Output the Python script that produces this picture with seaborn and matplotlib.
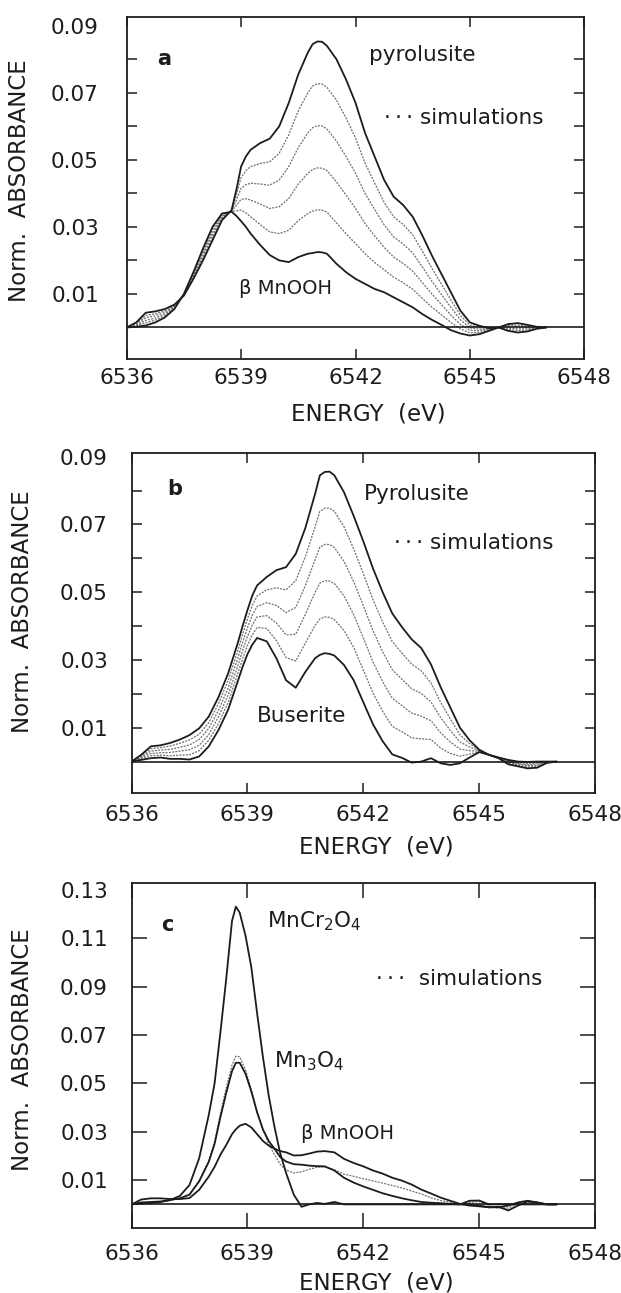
import matplotlib
matplotlib.use("Agg")
import matplotlib.pyplot as plt
import seaborn as sns

# ---- panel a : pyrolusite / beta-MnOOH and 4 simulated mixtures ----
energy_ab = [6536.00, 6536.25, 6536.50, 6536.75, 6537.00, 6537.25, 6537.50, 6537.75,
             6538.00, 6538.25, 6538.50, 6538.75, 6538.875, 6539.00, 6539.125, 6539.25,
             6539.50, 6539.75, 6540.00, 6540.25, 6540.50, 6540.75, 6540.875, 6541.00,
             6541.125, 6541.25, 6541.50, 6541.75, 6542.00, 6542.25, 6542.50, 6542.75,
             6543.00, 6543.25, 6543.50, 6543.75, 6544.00, 6544.25, 6544.50, 6544.75,
             6545.00, 6545.25, 6545.50, 6545.75, 6546.00, 6546.25, 6546.50, 6546.75,
             6547.00]

pyrolusite_a = [0, .0015, .0044, .0048, .0055, .0068, .0095, .0145, .020, .026, .032, .035,
                .041, .048, .051, .053, .055, .0563, .060, .067, .0755, .082, .0845, .0853,
                .0852, .084, .080, .074, .067, .058, .051, .044, .039, .0365, .033, .0275,
                .0215, .016, .0105, .005, .0015, .0005, -.0002, 0, .001, .0013, .0008,
                .0002, 0]
mnooh_a = [0, .0002, .0006, .0015, .003, .0055, .0100, .0165, .0235, .030, .034, .0345,
           .0333, .0317, .030, .028, .0246, .0216, .020, .0195, .021, .022, .0222, .0225,
           .0224, .022, .019, .0165, .0145, .013, .0115, .0105, .009, .0075, .006, .004,
           .0023, .0008, -.0008, -.0018, -.0024, -.002, -.001, 0, -.001, -.0015, -.0012,
           -.0004, 0]
sim_a1 = [0, .0005, .0014, .0022, .0035, .0058, .0099, .0161, .0228, .0292, .0336, .0346,
          .0348, .0350, .0342, .033, .0307, .0285, .028, .029, .0319, .034, .0347, .0351,
          .035, .0344, .0312, .028, .025, .022, .0194, .0172, .015, .0133, .0114, .0087,
          .0061, .0038, .0015, -.0004, -.0016, -.0015, -.0008, 0, -.0006, -.0009, -.0008,
          -.0003, 0]
sim_a2 = [0, .0007, .0021, .0028, .004, .006, .0098, .0157, .0221, .0284, .0332, .0347,
          .0364, .0382, .0384, .038, .0368, .0355, .036, .0385, .0428, .046, .0471, .0476,
          .0475, .0468, .0434, .0395, .0355, .031, .0273, .0239, .021, .0191, .0168, .0134,
          .0100, .0069, .0037, .0009, -.0008, -.001, -.0007, 0, -.0002, -.0004, -.0004,
          -.0002, 0]
sim_a3 = [0, .001, .0029, .0035, .0045, .0063, .0097, .0153, .0214, .0276, .0328, .0348,
          .0379, .0415, .0426, .043, .0428, .0424, .044, .048, .0537, .058, .0596, .0602,
          .0601, .0592, .0556, .051, .046, .040, .0352, .0306, .027, .0249, .0222, .0181,
          .0138, .0099, .006, .0023, -.0001, -.0005, -.0005, 0, .0002, .0002, 0, 0, 0]
sim_a4 = [0, .0012, .0036, .0041, .005, .0065, .0096, .0149, .0207, .0268, .0324, .0349,
          .0395, .0447, .0468, .048, .0489, .0494, .052, .0575, .0646, .070, .072, .0727,
          .0726, .0716, .0678, .0625, .0565, .049, .0431, .0373, .033, .0307, .0276, .0228,
          .0177, .013, .0082, .0036, .0007, 0, -.0004, 0, .0006, .0007, .0004, .0001, 0]

# ---- panel b : pyrolusite / buserite and 4 simulated mixtures ----
pyrolusite_b = [0, .002, .0045, .0048, .0055, .0065, .0078, .0098, .0133, .019, .026, .035,
                .040, .0447, .049, .052, .0545, .0565, .0574, .0613, .069, .079, .0845, .0855,
                .0856, .0845, .0795, .0725, .065, .057, .050, .0437, .0397, .0361, .0335,
                .0287, .022, .016, .010, .0063, .0035, .002, .0012, .0005, 0, -.0001, 0, 0, 0]
buserite_b = [0, .0005, .001, .0012, .0008, .0008, .0006, .0015, .0045, .0093, .0153, .0237,
              .028, .0317, .0345, .0365, .0355, .0305, .024, .0218, .0265, .0305, .0315, .032,
              .0318, .0313, .0285, .024, .0175, .011, .006, .0021, .0011, -.0003, 0, .001,
              -.0005, -.001, -.0005, .0012, .0028, .002, .001, -.0008, -.0014, -.002, -.0018,
              -.0004, 0]
sim_b1 = [0, .0008, .0017, .0019, .0017, .0019, .002, .0032, .0063, .0112, .0174, .026,
          .0304, .0343, .0374, .0396, .0393, .0357, .0307, .0297, .035, .0402, .0421, .0427,
          .0426, .0419, .0387, .0337, .027, .0202, .0148, .0104, .0088, .007, .0067, .0065,
          .004, .0024, .0016, .0022, .0029, .002, .001, -.0005, -.0011, -.0016, -.0014,
          -.0003, 0]
sim_b2 = [0, .0011, .0024, .0026, .0027, .0031, .0035, .0048, .008, .0132, .0196, .0282,
          .0328, .0369, .0403, .0427, .0431, .0409, .0374, .0376, .0435, .0499, .0527, .0534,
          .0533, .0526, .0489, .0434, .0365, .0294, .0236, .0187, .0165, .0143, .0134, .0121,
          .0085, .0058, .0037, .0032, .0031, .002, .0011, -.0003, -.0008, -.0012, -.0011,
          -.0002, 0]
sim_b3 = [0, .0014, .0031, .0034, .0036, .0042, .0049, .0065, .0098, .0151, .0217, .0305,
          .0352, .0395, .0432, .0458, .0469, .0461, .044, .0455, .052, .0596, .0633, .0641,
          .0641, .0632, .0591, .0531, .046, .0386, .0324, .0271, .0243, .0215, .0201, .0176,
          .013, .0092, .0058, .0043, .0032, .002, .0011, 0, -.0006, -.0009, -.0007, -.0002, 0]
sim_b4 = [0, .0017, .0038, .0041, .0046, .0054, .0064, .0081, .0115, .0171, .0239, .0327,
          .0376, .0421, .0461, .0489, .0507, .0513, .0507, .0534, .0605, .0693, .0739, .0748,
          .0748, .0739, .0693, .0628, .0555, .0478, .0412, .0354, .032, .0288, .0268, .0232,
          .0175, .0126, .0079, .0053, .0034, .002, .0012, .0002, -.0003, -.0005, -.0004,
          -.0001, 0]

# ---- panel c : MnCr2O4 / Mn3O4 / beta-MnOOH and the Mn3O4 simulation ----
energy_c = [6536.00, 6536.25, 6536.50, 6536.75, 6537.00, 6537.25, 6537.50, 6537.75,
            6538.00, 6538.15, 6538.30, 6538.45, 6538.60, 6538.70, 6538.80, 6538.95,
            6539.10, 6539.25, 6539.40, 6539.55, 6539.70, 6539.85, 6540.00, 6540.20,
            6540.40, 6540.60, 6540.80, 6541.00, 6541.25, 6541.50, 6541.75, 6542.00,
            6542.25, 6542.50, 6542.75, 6543.00, 6543.25, 6543.50, 6543.75, 6544.00,
            6544.25, 6544.50, 6544.75, 6545.00, 6545.25, 6545.50, 6545.75, 6546.00,
            6546.25, 6546.50, 6546.75, 6547.00]
mncr2o4_c = [0, .0003, .0005, .001, .0018, .0035, .008, .019, .037, .050, .071, .093,
             .117, .123, .1205, .111, .098, .079, .061, .045, .032, .021, .013, .004,
             -.001, 0, .0006, .0002, .001, 0, 0, 0, 0, 0, 0, 0, 0, 0, 0, 0,
             0, 0, .0015, .0016, 0, 0, 0, 0, 0, 0, 0, 0]
mn3o4_c = [0, .0008, .001, .0012, .0018, .0025, .004, .0095, .0176, .025, .036, .046,
           .055, .0585, .0585, .054, .0467, .038, .031, .0262, .023, .0195, .0177, .0166,
           .0164, .016, .0158, .0157, .014, .011, .009, .0074, .006, .0046, .0035, .0025,
           .0017, .001, .0007, .0005, .0002, 0, 0, -.0005, -.0012, -.0012, -.0005, .0008,
           .0015, .0008, 0, 0]
mnooh_c = [0, .002, .0025, .0025, .0022, .0022, .0026, .006, .0115, .0155, .0205, .0245,
           .029, .031, .0325, .0333, .0318, .029, .0262, .0243, .023, .022, .0215, .0202,
           .0203, .021, .0218, .022, .0215, .0188, .0171, .0157, .014, .0127, .011, .0098,
           .0082, .0061, .0045, .0028, .0015, .0002, -.0005, -.0008, -.0012, -.001, -.0025,
           -.0005, .0012, .0008, 0, 0]
sim_c = [0, .0006, .0008, .001, .0017, .0026, .0042, .0098, .018, .026, .0375, .048,
         .0575, .0612, .061, .0555, .0475, .0385, .031, .025, .0205, .0165, .0142, .013,
         .0135, .0145, .0153, .0155, .0143, .0125, .0116, .0106, .0097, .0088, .0078, .0068,
         .0055, .0043, .0027, .0016, .0009, 0, .0008, .0012, -.0008, -.0015, -.0015, .0003,
         .001, .0005, 0, 0]

INK = "#1c1c1c"
SIM = "#707070"

sns.set_style("white")
plt.rcParams["font.family"] = ["DejaVu Sans"]

fig = plt.figure(figsize=(6.21, 12.93), dpi=100)
ax_a = fig.add_axes([0.204, 0.7221, 0.737, 0.2645])
ax_b = fig.add_axes([0.2118, 0.3869, 0.7466, 0.2625])
ax_c = fig.add_axes([0.2118, 0.0500, 0.7466, 0.2668])


def draw_curves(ax, energy, solids, sims):
    for s in sims:
        sns.lineplot(x=energy, y=s, ax=ax, color=SIM, lw=0.9,
                     linestyle=(0, (1.6, 1.0)), errorbar=None)
    for s in solids:
        sns.lineplot(x=energy, y=s, ax=ax, color=INK, lw=1.3, errorbar=None)
    ax.axhline(0, color=INK, lw=1.2)


def style_axes(ax, ylim, yticks, ylabels, ticklen, ypad, xpad, ylab_y, xlab_y):
    ax.set_xlim(6536, 6548)
    ax.set_ylim(*ylim)
    ax.set_xticks([6536, 6539, 6542, 6545, 6548])
    ax.set_yticks(yticks, labels=ylabels)
    ax.tick_params(axis="both", direction="in", top=True, right=True,
                   bottom=True, left=True,
                   length=ticklen, width=1.1, color=INK, labelsize=15.5,
                   labelcolor=INK)
    ax.tick_params(axis="y", pad=ypad)
    ax.tick_params(axis="x", pad=xpad)
    for sp in ax.spines.values():
        sp.set_color(INK)
        sp.set_linewidth(1.3)
    ax.set_xlabel("ENERGY  (eV)", fontsize=16.5, color=INK)
    ax.set_ylabel("Norm.  ABSORBANCE", fontsize=16.5, color=INK)
    ax.xaxis.set_label_coords(0.527, xlab_y)
    ax.xaxis.label.set_va("top")
    ax.yaxis.set_label_coords(-0.21, ylab_y)


ab_ticks = [0.01, 0.02, 0.03, 0.04, 0.05, 0.06, 0.07, 0.08, 0.09]
ab_labels = ["0.01", "", "0.03", "", "0.05", "", "0.07", "", "0.09"]
c_ticks = [0.01, 0.03, 0.05, 0.07, 0.09, 0.11, 0.13]
c_labels = ["0.01", "0.03", "0.05", "0.07", "0.09", "0.11", "0.13"]

# panel a
draw_curves(ax_a, energy_ab, [pyrolusite_a, mnooh_a], [sim_a1, sim_a2, sim_a3, sim_a4])
style_axes(ax_a, (-0.0095, 0.0925), ab_ticks, ab_labels, 7, 20, 6, 0.522, -0.125)
ax_a.text(6536.8, 0.080, "a", fontsize=15, fontweight="bold", color=INK, va="center")
ax_a.text(6542.35, 0.0812, "pyrolusite", fontsize=15.5, color=INK, va="center")
ax_a.text(6542.75, 0.0625, "\u00b7\u2009\u00b7\u2009\u00b7 simulations", fontsize=15.5,
          color=INK, va="center")
ax_a.text(6538.95, 0.0115, "\u03b2 MnOOH", fontsize=14, color=INK, va="center")

# panel b
draw_curves(ax_b, energy_ab, [pyrolusite_b, buserite_b], [sim_b1, sim_b2, sim_b3, sim_b4])
style_axes(ax_b, (-0.0092, 0.091), ab_ticks, ab_labels, 7, 17, 9, 0.535, -0.125)
ax_b.text(6536.93, 0.0805, "b", fontsize=15, fontweight="bold", color=INK, va="center")
ax_b.text(6542.02, 0.079, "Pyrolusite", fontsize=15.5, color=INK, va="center")
ax_b.text(6542.8, 0.0644, "\u00b7\u2009\u00b7\u2009\u00b7 simulations", fontsize=15.5,
          color=INK, va="center")
ax_b.text(6539.24, 0.0135, "Buserite", fontsize=15.5, color=INK, va="center")

# panel c
draw_curves(ax_c, energy_c, [mncr2o4_c, mn3o4_c, mnooh_c], [sim_c])
style_axes(ax_c, (-0.0099, 0.1326), c_ticks, c_labels, 11, 17, 11, 0.517, -0.126)
ax_c.text(6536.77, 0.1153, "c", fontsize=15, fontweight="bold", color=INK, va="center")
ax_c.text(6539.5, 0.117, r"MnCr$_2$O$_4$", fontsize=15.5, color=INK, va="center")
ax_c.text(6542.33, 0.093, "\u00b7\u2009\u00b7\u2009\u00b7  simulations", fontsize=15.5,
          color=INK, va="center")
ax_c.text(6539.7, 0.059, r"Mn$_3$O$_4$", fontsize=15.5, color=INK, va="center")
ax_c.text(6540.38, 0.0292, "\u03b2 MnOOH", fontsize=14, color=INK, va="center")

# top label rows carry no tick mark in the original
for ax in (ax_a, ax_b, ax_c):
    t = ax.yaxis.get_major_ticks()[-1]
    t.tick1line.set_visible(False)
    t.tick2line.set_visible(False)

fig.savefig("out.png", dpi=100, facecolor="white")
